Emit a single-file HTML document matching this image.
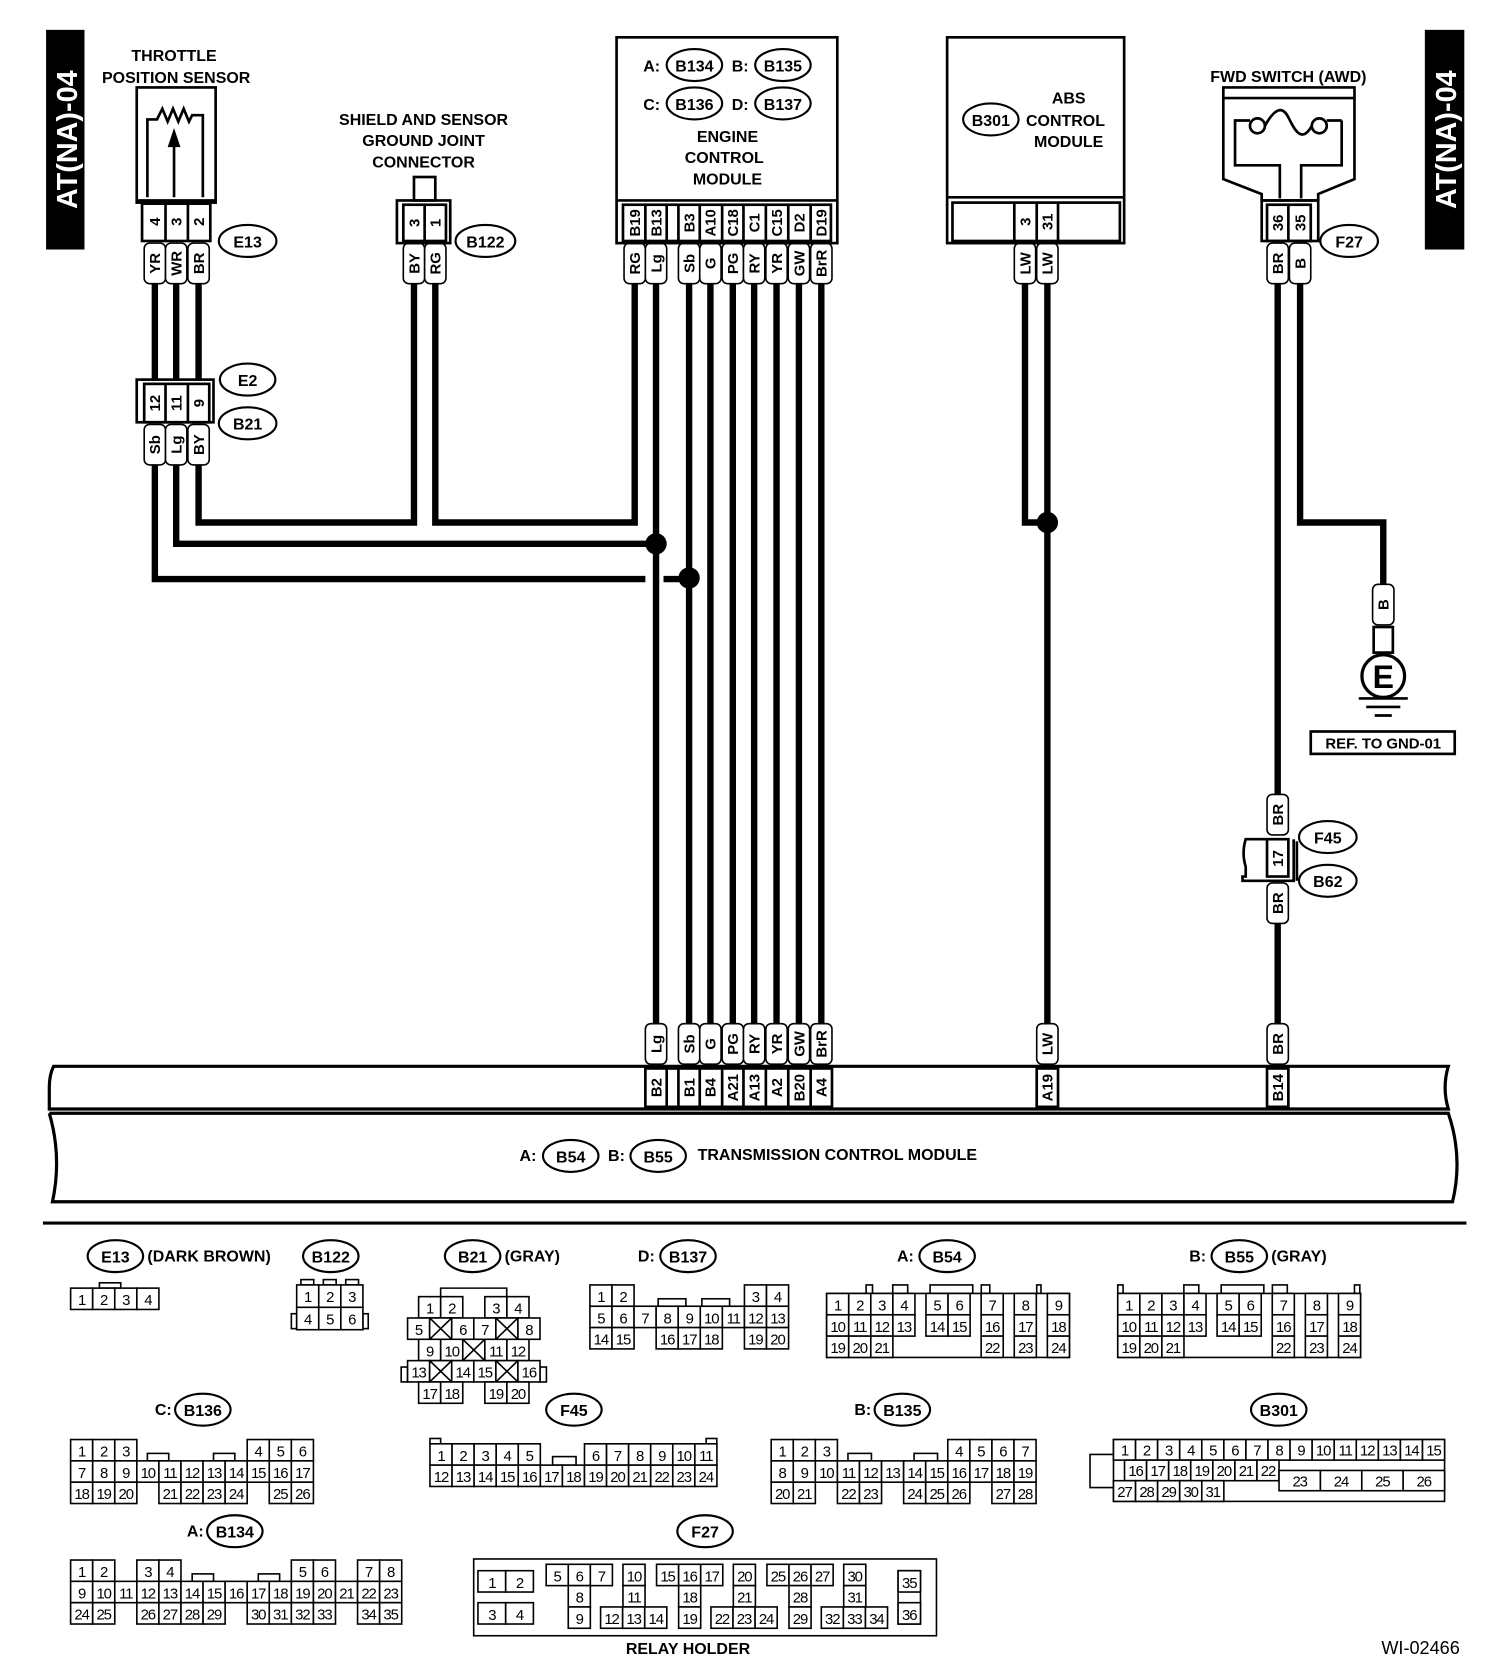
<!DOCTYPE html>
<html><head><meta charset="utf-8"><style>
html,body{margin:0;padding:0;background:#fff}
svg{display:block}
text{font-family:"Liberation Sans",sans-serif;fill:#000}
.b{font-weight:bold;font-size:15px}
.l{font-weight:bold;font-size:14px;text-anchor:middle}
.n{font-size:14px;text-anchor:middle;letter-spacing:-1px}
.c rect,rect.c{fill:#fff;stroke:#000;stroke-width:1.5}
.w{fill:none;stroke:#000;stroke-width:6}
.o{fill:#fff;stroke:#000;stroke-width:2}
.s{fill:none;stroke:#000;stroke-width:2.5}
</style></head><body>
<svg width="1504" height="1672" viewBox="0 0 1410 1568" xmlns="http://www.w3.org/2000/svg">
<rect width="1410" height="1568" fill="#fff"/>
<rect x="43" y="28" width="36" height="206" fill="#000"/>
<text transform="translate(72,131) rotate(-90)" text-anchor="middle" style="font-size:27px;font-weight:bold;fill:#fff">AT(NA)-04</text>
<rect x="1336" y="28" width="37" height="206" fill="#000"/>
<text transform="translate(1365,131) rotate(-90)" text-anchor="middle" style="font-size:27px;font-weight:bold;fill:#fff">AT(NA)-04</text>

<g class="w">
<path d="M145 266V355M165 266V355M186 266V355"/>
<path d="M145 436V543H605M622 543H646"/>
<path d="M165 436V510H615"/>
<path d="M186 436V490H388V266"/>
<path d="M408 266V490H595V266"/>
<path d="M615 266V960M646 266V960M666 266V960M687 266V960M707 266V960M728 266V960M749 266V960M770 266V960"/>
<path d="M961 266V490H982M982 266V960"/>
<path d="M1219 266V490H1297V548"/>
<path d="M1198 266V745M1198 866V960"/>
</g>
<circle cx="615" cy="510" r="10"/><circle cx="646" cy="542" r="10"/><circle cx="982" cy="490" r="10"/>

<text class="b" x="163" y="57" text-anchor="middle">THROTTLE</text>
<text class="b" x="165" y="78" text-anchor="middle">POSITION SENSOR</text>
<rect class="s" x="128" y="82" width="74" height="108" fill="#fff"/>
<path class="s" d="M138 185V112H147L152 102L157 114L162 102L167 114L172 102L177 114L180 108H190V185"/>
<path class="s" d="M163 185V135"/><path d="M157 138L163 120L169 138Z"/>
<line class="s" x1="128" y1="188" x2="202" y2="188"/>
<rect class="s" x="133" y="191" width="64" height="35"/>
<path class="s" d="M155 191V226M176 191V226"/>
<text class="l" transform="translate(150,208) rotate(-90)">4</text>
<text class="l" transform="translate(170,208) rotate(-90)">3</text>
<text class="l" transform="translate(191,208) rotate(-90)">2</text>
<ellipse class="o" cx="232" cy="226" rx="27" ry="15"/><text class="b" x="232" y="232" text-anchor="middle">E13</text>

<g class="c">
<rect x="135" y="228" width="20" height="38" rx="5"/><rect x="155" y="228" width="20" height="38" rx="5"/><rect x="176" y="228" width="20" height="38" rx="5"/>
<rect x="378" y="228" width="20" height="38" rx="5"/><rect x="398" y="228" width="20" height="38" rx="5"/>
<rect x="585" y="228" width="20" height="38" rx="5"/><rect x="605" y="228" width="20" height="38" rx="5"/>
<rect x="636" y="228" width="20" height="38" rx="5"/><rect x="656" y="228" width="20" height="38" rx="5"/><rect x="677" y="228" width="20" height="38" rx="5"/><rect x="697" y="228" width="20" height="38" rx="5"/><rect x="718" y="228" width="20" height="38" rx="5"/><rect x="739" y="228" width="20" height="38" rx="5"/><rect x="760" y="228" width="20" height="38" rx="5"/>
<rect x="951" y="228" width="20" height="38" rx="5"/><rect x="972" y="228" width="20" height="38" rx="5"/>
<rect x="1188" y="228" width="20" height="38" rx="5"/><rect x="1209" y="228" width="20" height="38" rx="5"/>
<rect x="135" y="398" width="20" height="38" rx="5"/><rect x="155" y="398" width="20" height="38" rx="5"/><rect x="176" y="398" width="20" height="38" rx="5"/>
<rect x="605" y="960" width="20" height="38" rx="5"/><rect x="636" y="960" width="20" height="38" rx="5"/><rect x="656" y="960" width="20" height="38" rx="5"/><rect x="677" y="960" width="20" height="38" rx="5"/><rect x="697" y="960" width="20" height="38" rx="5"/><rect x="718" y="960" width="20" height="38" rx="5"/><rect x="739" y="960" width="20" height="38" rx="5"/><rect x="760" y="960" width="20" height="38" rx="5"/>
<rect x="972" y="960" width="20" height="38" rx="5"/><rect x="1188" y="960" width="20" height="38" rx="5"/>
<rect x="1287" y="548" width="20" height="38" rx="5"/>
<rect x="1188" y="745" width="20" height="38" rx="5"/><rect x="1188" y="828" width="20" height="38" rx="5"/>
</g>
<g class="l">
<text transform="translate(150,247) rotate(-90)">YR</text><text transform="translate(170,247) rotate(-90)">WR</text><text transform="translate(191,247) rotate(-90)">BR</text>
<text transform="translate(393,247) rotate(-90)">BY</text><text transform="translate(413,247) rotate(-90)">RG</text>
<text transform="translate(600,247) rotate(-90)">RG</text><text transform="translate(620,247) rotate(-90)">Lg</text>
<text transform="translate(651,247) rotate(-90)">Sb</text><text transform="translate(671,247) rotate(-90)">G</text><text transform="translate(692,247) rotate(-90)">PG</text><text transform="translate(712,247) rotate(-90)">RY</text><text transform="translate(733,247) rotate(-90)">YR</text><text transform="translate(754,247) rotate(-90)">GW</text><text transform="translate(775,247) rotate(-90)">BrR</text>
<text transform="translate(966,247) rotate(-90)">LW</text><text transform="translate(987,247) rotate(-90)">LW</text>
<text transform="translate(1203,247) rotate(-90)">BR</text><text transform="translate(1224,247) rotate(-90)">B</text>
<text transform="translate(150,417) rotate(-90)">Sb</text><text transform="translate(170,417) rotate(-90)">Lg</text><text transform="translate(191,417) rotate(-90)">BY</text>
<text transform="translate(620,979) rotate(-90)">Lg</text><text transform="translate(651,979) rotate(-90)">Sb</text><text transform="translate(671,979) rotate(-90)">G</text><text transform="translate(692,979) rotate(-90)">PG</text><text transform="translate(712,979) rotate(-90)">RY</text><text transform="translate(733,979) rotate(-90)">YR</text><text transform="translate(754,979) rotate(-90)">GW</text><text transform="translate(775,979) rotate(-90)">BrR</text>
<text transform="translate(987,979) rotate(-90)">LW</text><text transform="translate(1203,979) rotate(-90)">BR</text>
<text transform="translate(1302,567) rotate(-90)">B</text>
<text transform="translate(1203,764) rotate(-90)">BR</text><text transform="translate(1203,847) rotate(-90)">BR</text>
</g>

<rect class="s" x="128" y="356" width="72" height="40" fill="#fff"/>
<rect class="s" x="135" y="360" width="61" height="36"/>
<path class="s" d="M155 360V396M176 360V396"/>
<text class="l" transform="translate(150,378) rotate(-90)">12</text><text class="l" transform="translate(170,378) rotate(-90)">11</text><text class="l" transform="translate(191,378) rotate(-90)">9</text>
<ellipse class="o" cx="232" cy="356" rx="26" ry="15"/><text class="b" x="232" y="362" text-anchor="middle">E2</text>
<ellipse class="o" cx="232" cy="397" rx="27" ry="15"/><text class="b" x="232" y="403" text-anchor="middle">B21</text>

<text class="b" x="397" y="117" text-anchor="middle">SHIELD AND SENSOR</text>
<text class="b" x="397" y="137" text-anchor="middle">GROUND JOINT</text>
<text class="b" x="397" y="157" text-anchor="middle">CONNECTOR</text>
<rect class="s" x="388" y="166" width="20" height="22"/>
<rect class="s" x="372" y="188" width="50" height="40" fill="#fff"/>
<rect class="s" x="378" y="192" width="40" height="34"/><path class="s" d="M398 192V226"/>
<text class="l" transform="translate(393,209) rotate(-90)">3</text><text class="l" transform="translate(413,209) rotate(-90)">1</text>
<ellipse class="o" cx="455" cy="226" rx="28" ry="15"/><text class="b" x="455" y="232" text-anchor="middle">B122</text>

<rect class="s" x="578" y="35" width="207" height="193" fill="#fff"/>
<line class="s" x1="578" y1="188" x2="785" y2="188"/>
<text class="b" x="603" y="67">A:</text><ellipse class="o" cx="651" cy="61" rx="26" ry="15"/><text class="b" x="651" y="67" text-anchor="middle">B134</text>
<text class="b" x="686" y="67">B:</text><ellipse class="o" cx="734" cy="61" rx="26" ry="15"/><text class="b" x="734" y="67" text-anchor="middle">B135</text>
<text class="b" x="603" y="103">C:</text><ellipse class="o" cx="651" cy="97" rx="26" ry="15"/><text class="b" x="651" y="103" text-anchor="middle">B136</text>
<text class="b" x="686" y="103">D:</text><ellipse class="o" cx="734" cy="97" rx="26" ry="15"/><text class="b" x="734" y="103" text-anchor="middle">B137</text>
<text class="b" x="682" y="133" text-anchor="middle">ENGINE</text>
<text class="b" x="679" y="153" text-anchor="middle">CONTROL</text>
<text class="b" x="682" y="173" text-anchor="middle">MODULE</text>
<rect class="s" x="584" y="192" width="195" height="34"/>
<path class="s" d="M605 192V226M625 192V226M636 192V226M656 192V226M677 192V226M697 192V226M718 192V226M739 192V226M760 192V226"/>
<g class="l">
<text transform="translate(600,209) rotate(-90)">B19</text><text transform="translate(620,209) rotate(-90)">B13</text><text transform="translate(651,209) rotate(-90)">B3</text><text transform="translate(671,209) rotate(-90)">A10</text><text transform="translate(692,209) rotate(-90)">C18</text><text transform="translate(712,209) rotate(-90)">C1</text><text transform="translate(733,209) rotate(-90)">C15</text><text transform="translate(754,209) rotate(-90)">D2</text><text transform="translate(775,209) rotate(-90)">D19</text>
</g>

<rect class="s" x="888" y="35" width="166" height="193" fill="#fff"/>
<line class="s" x1="888" y1="185" x2="1054" y2="185"/>
<rect class="s" x="893" y="190" width="157" height="36"/>
<path class="s" d="M951 190V226M972 190V226M992 190V226"/>
<text class="l" transform="translate(966,208) rotate(-90)">3</text><text class="l" transform="translate(987,208) rotate(-90)">31</text>
<text class="b" x="1002" y="97" text-anchor="middle">ABS</text>
<ellipse class="o" cx="929" cy="112" rx="26" ry="15"/><text class="b" x="929" y="118" text-anchor="middle">B301</text>
<text class="b" x="999" y="118" text-anchor="middle">CONTROL</text>
<text class="b" x="1002" y="138" text-anchor="middle">MODULE</text>

<text class="b" x="1208" y="77" text-anchor="middle">FWD SWITCH (AWD)</text>
<path class="s" d="M1147 82H1270V168L1236 182V188H1183V182L1147 168Z" fill="#fff"/>
<line class="s" x1="1147" y1="92" x2="1270" y2="92"/>
<path class="s" d="M1200 186V155H1158V113H1172M1258 113V155H1220V186M1244 113H1258"/>
<circle class="s" cx="1179" cy="118" r="7"/><circle class="s" cx="1237" cy="118" r="7"/>
<path class="s" d="M1186 118C1196 100 1203 100 1208 110S1220 136 1230 118"/>
<rect class="s" x="1183" y="188" width="53" height="38" fill="#fff"/>
<rect class="s" x="1188" y="192" width="41" height="34"/><path class="s" d="M1208 192V226"/>
<text class="l" transform="translate(1203,209) rotate(-90)">36</text><text class="l" transform="translate(1224,209) rotate(-90)">35</text>
<ellipse class="o" cx="1265" cy="226" rx="27" ry="15"/><text class="b" x="1265" y="232" text-anchor="middle">F27</text>

<rect class="s" x="1288" y="588" width="18" height="24" fill="#fff"/>
<circle class="s" cx="1297" cy="634" r="20" fill="#fff" style="stroke-width:3"/>
<text x="1297" y="645" text-anchor="middle" style="font-weight:bold;font-size:30px">E</text>
<path class="s" d="M1274 655H1320M1281 663H1313M1289 671H1305"/>
<rect class="s" x="1229" y="686" width="135" height="21" fill="#fff"/>
<text class="b" x="1297" y="702" text-anchor="middle" style="font-size:14px">REF. TO GND-01</text>

<path class="s" d="M1188 787H1168Q1164 800 1168 813V822H1165V826H1213V787" fill="#fff"/>
<rect class="s" x="1188" y="787" width="20" height="35"/>
<path class="s" d="M1216 789V826"/>
<text class="l" transform="translate(1203,805) rotate(-90)">17</text>
<ellipse class="o" cx="1245" cy="785" rx="27" ry="15"/><text class="b" x="1245" y="791" text-anchor="middle">F45</text>
<ellipse class="o" cx="1245" cy="826" rx="27" ry="15"/><text class="b" x="1245" y="832" text-anchor="middle">B62</text>

<path class="s" d="M50 1000H1358Q1352 1020 1358 1040H46V1020Q46 1008 50 1000Z" fill="#fff" style="stroke-width:3"/>
<path class="s" d="M46 1044H1358Q1372 1085 1362 1127H49Q58 1085 46 1044" fill="#fff" style="stroke-width:3"/>
<rect class="s" x="605" y="1002" width="175" height="36"/>
<rect class="s" x="972" y="1002" width="20" height="36"/>
<rect class="s" x="1188" y="1002" width="20" height="36"/>
<path class="s" d="M625 1002V1038M636 1002V1038M656 1002V1038M677 1002V1038M697 1002V1038M718 1002V1038M739 1002V1038M760 1002V1038"/>
<g class="l">
<text transform="translate(620,1020) rotate(-90)">B2</text><text transform="translate(651,1020) rotate(-90)">B1</text><text transform="translate(671,1020) rotate(-90)">B4</text><text transform="translate(692,1020) rotate(-90)">A21</text><text transform="translate(712,1020) rotate(-90)">A13</text><text transform="translate(733,1020) rotate(-90)">A2</text><text transform="translate(754,1020) rotate(-90)">B20</text><text transform="translate(775,1020) rotate(-90)">A4</text>
<text transform="translate(987,1020) rotate(-90)">A19</text><text transform="translate(1203,1020) rotate(-90)">B14</text>
</g>
<text class="b" x="487" y="1089">A:</text><ellipse class="o" cx="535" cy="1084" rx="26" ry="15"/><text class="b" x="535" y="1090" text-anchor="middle">B54</text>
<text class="b" x="570" y="1089">B:</text><ellipse class="o" cx="617" cy="1084" rx="26" ry="15"/><text class="b" x="617" y="1090" text-anchor="middle">B55</text>
<text class="b" x="654" y="1088">TRANSMISSION CONTROL MODULE</text>

<line x1="40" y1="1147" x2="1375" y2="1147" stroke="#000" stroke-width="3"/>

<ellipse class="o" cx="108" cy="1178" rx="26" ry="15"/><text class="b" x="108" y="1184" text-anchor="middle">E13</text><text class="b" x="138" y="1183">(DARK BROWN)</text>
<ellipse class="o" cx="310" cy="1178" rx="26" ry="15"/><text class="b" x="310" y="1184" text-anchor="middle">B122</text>
<ellipse class="o" cx="443" cy="1178" rx="26" ry="15"/><text class="b" x="443" y="1184" text-anchor="middle">B21</text><text class="b" x="473" y="1183">(GRAY)</text>
<text class="b" x="598" y="1183">D:</text><ellipse class="o" cx="645" cy="1178" rx="26" ry="15"/><text class="b" x="645" y="1184" text-anchor="middle">B137</text>
<text class="b" x="841" y="1183">A:</text><ellipse class="o" cx="888" cy="1178" rx="26" ry="15"/><text class="b" x="888" y="1184" text-anchor="middle">B54</text>
<text class="b" x="1115" y="1183">B:</text><ellipse class="o" cx="1162" cy="1178" rx="26" ry="15"/><text class="b" x="1162" y="1184" text-anchor="middle">B55</text><text class="b" x="1192" y="1183">(GRAY)</text>
<text class="b" x="145" y="1327">C:</text><ellipse class="o" cx="190" cy="1322" rx="26" ry="15"/><text class="b" x="190" y="1328" text-anchor="middle">B136</text>
<ellipse class="o" cx="538" cy="1322" rx="26" ry="15"/><text class="b" x="538" y="1328" text-anchor="middle">F45</text>
<text class="b" x="801" y="1327">B:</text><ellipse class="o" cx="846" cy="1322" rx="26" ry="15"/><text class="b" x="846" y="1328" text-anchor="middle">B135</text>
<ellipse class="o" cx="1199" cy="1322" rx="26" ry="15"/><text class="b" x="1199" y="1328" text-anchor="middle">B301</text>
<text class="b" x="175" y="1441">A:</text><ellipse class="o" cx="220" cy="1436" rx="26" ry="15"/><text class="b" x="220" y="1442" text-anchor="middle">B134</text>
<ellipse class="o" cx="661" cy="1436" rx="26" ry="15"/><text class="b" x="661" y="1442" text-anchor="middle">F27</text>

<g transform="translate(66,1208)" class="c">
<rect x="27" y="-5" width="20" height="5"/>
<rect x="0" y="0" width="20.7" height="20"/><rect x="20.7" y="0" width="20.7" height="20"/><rect x="41.4" y="0" width="20.7" height="20"/><rect x="62.1" y="0" width="20.7" height="20"/>
<text class="n" x="10.3" y="16">1</text><text class="n" x="31" y="16">2</text><text class="n" x="51.7" y="16">3</text><text class="n" x="72.4" y="16">4</text>
</g>
<g transform="translate(278,1205)" class="c">
<rect x="4" y="-5" width="12" height="5"/><rect x="25" y="-5" width="12" height="5"/><rect x="46" y="-5" width="12" height="5"/>
<rect x="-5" y="27" width="5" height="14"/><rect x="62.1" y="27" width="5" height="14"/>
<rect x="0" y="0" width="20.7" height="21"/><rect x="20.7" y="0" width="20.7" height="21"/><rect x="41.4" y="0" width="20.7" height="21"/>
<rect x="0" y="21" width="20.7" height="21"/><rect x="20.7" y="21" width="20.7" height="21"/><rect x="41.4" y="21" width="20.7" height="21"/>
<text class="n" x="10.3" y="16">1</text><text class="n" x="31" y="16">2</text><text class="n" x="51.7" y="16">3</text>
<text class="n" x="10.3" y="37">4</text><text class="n" x="31" y="37">5</text><text class="n" x="51.7" y="37">6</text>
</g>
<g transform="translate(382,1216)" class="c">
<path d="M31 0V-8H93V0" fill="none" stroke="#000" stroke-width="1.5"/>
<rect x="-6" y="66" width="6" height="14"/><rect x="124.2" y="66" width="6" height="14"/>
<rect x="10.35" y="0" width="20.7" height="20"/><rect x="31.05" y="0" width="20.7" height="20"/><rect x="72.45" y="0" width="20.7" height="20"/><rect x="93.15" y="0" width="20.7" height="20"/>
<rect x="0" y="20" width="20.7" height="20"/><rect x="20.7" y="20" width="20.7" height="20"/><rect x="41.4" y="20" width="20.7" height="20"/><rect x="62.1" y="20" width="20.7" height="20"/><rect x="82.8" y="20" width="20.7" height="20"/><rect x="103.5" y="20" width="20.7" height="20"/>
<rect x="10.35" y="40" width="20.7" height="20"/><rect x="31.05" y="40" width="20.7" height="20"/><rect x="51.75" y="40" width="20.7" height="20"/><rect x="72.45" y="40" width="20.7" height="20"/><rect x="93.15" y="40" width="20.7" height="20"/>
<rect x="0" y="60" width="20.7" height="20"/><rect x="20.7" y="60" width="20.7" height="20"/><rect x="41.4" y="60" width="20.7" height="20"/><rect x="62.1" y="60" width="20.7" height="20"/><rect x="82.8" y="60" width="20.7" height="20"/><rect x="103.5" y="60" width="20.7" height="20"/>
<rect x="10.35" y="80" width="20.7" height="20"/><rect x="31.05" y="80" width="20.7" height="20"/><rect x="72.45" y="80" width="20.7" height="20"/><rect x="93.15" y="80" width="20.7" height="20"/>
<path d="M20.7 20L41.4 40M41.4 20L20.7 40M82.8 20L103.5 40M103.5 20L82.8 40M51.75 40L72.45 60M72.45 40L51.75 60M20.7 60L41.4 80M41.4 60L20.7 80M82.8 60L103.5 80M103.5 60L82.8 80" stroke="#000" stroke-width="1.5"/>
<text class="n" x="20.7" y="16">1</text><text class="n" x="41.4" y="16">2</text><text class="n" x="82.8" y="16">3</text><text class="n" x="103.5" y="16">4</text>
<text class="n" x="10.3" y="36">5</text><text class="n" x="51.7" y="36">6</text><text class="n" x="72.4" y="36">7</text><text class="n" x="113.8" y="36">8</text>
<text class="n" x="20.7" y="56">9</text><text class="n" x="41.4" y="56">10</text><text class="n" x="82.8" y="56">11</text><text class="n" x="103.5" y="56">12</text>
<text class="n" x="10.3" y="76">13</text><text class="n" x="51.7" y="76">14</text><text class="n" x="72.4" y="76">15</text><text class="n" x="113.8" y="76">16</text>
<text class="n" x="20.7" y="96">17</text><text class="n" x="41.4" y="96">18</text><text class="n" x="82.8" y="96">19</text><text class="n" x="103.5" y="96">20</text>
</g>
<g transform="translate(553,1205)" class="c">
<rect x="64" y="13" width="26" height="7"/><rect x="105" y="13" width="26" height="7"/>
<rect x="0" y="0" width="20.7" height="20"/><rect x="20.7" y="0" width="20.7" height="20"/><rect x="144.9" y="0" width="20.7" height="20"/><rect x="165.6" y="0" width="20.7" height="20"/>
<rect x="0" y="20" width="20.7" height="20"/><rect x="20.7" y="20" width="20.7" height="20"/><rect x="41.4" y="20" width="20.7" height="20"/><rect x="62.1" y="20" width="20.7" height="20"/><rect x="82.8" y="20" width="20.7" height="20"/><rect x="103.5" y="20" width="20.7" height="20"/><rect x="124.2" y="20" width="20.7" height="20"/><rect x="144.9" y="20" width="20.7" height="20"/><rect x="165.6" y="20" width="20.7" height="20"/>
<rect x="0" y="40" width="20.7" height="20"/><rect x="20.7" y="40" width="20.7" height="20"/><rect x="62.1" y="40" width="20.7" height="20"/><rect x="82.8" y="40" width="20.7" height="20"/><rect x="103.5" y="40" width="20.7" height="20"/><rect x="144.9" y="40" width="20.7" height="20"/><rect x="165.6" y="40" width="20.7" height="20"/>
<text class="n" x="10.3" y="16">1</text><text class="n" x="31" y="16">2</text><text class="n" x="155.2" y="16">3</text><text class="n" x="175.9" y="16">4</text>
<text class="n" x="10.3" y="36">5</text><text class="n" x="31" y="36">6</text><text class="n" x="51.7" y="36">7</text><text class="n" x="72.4" y="36">8</text><text class="n" x="93.1" y="36">9</text><text class="n" x="113.8" y="36">10</text><text class="n" x="134.5" y="36">11</text><text class="n" x="155.2" y="36">12</text><text class="n" x="175.9" y="36">13</text>
<text class="n" x="10.3" y="56">14</text><text class="n" x="31" y="56">15</text><text class="n" x="72.4" y="56">16</text><text class="n" x="93.1" y="56">17</text><text class="n" x="113.8" y="56">18</text><text class="n" x="155.2" y="56">19</text><text class="n" x="175.9" y="56">20</text>
</g>
<g transform="translate(775,1213)" class="c">
<rect x="37" y="-8" width="6" height="8"/><rect x="62" y="-8" width="14" height="8"/><rect x="97" y="-8" width="40" height="8"/><rect x="145" y="-8" width="8" height="8"/><rect x="197" y="-8" width="4" height="8"/>
<rect x="0" y="0" width="227.7" height="60"/>
<rect x="0" y="0" width="20.7" height="20"/><rect x="20.7" y="0" width="20.7" height="20"/><rect x="41.4" y="0" width="20.7" height="20"/><rect x="62.1" y="0" width="20.7" height="20"/><rect x="93.15" y="0" width="20.7" height="20"/><rect x="113.85" y="0" width="20.7" height="20"/><rect x="144.9" y="0" width="20.7" height="20"/><rect x="175.95" y="0" width="20.7" height="20"/><rect x="207" y="0" width="20.7" height="20"/>
<rect x="0" y="20" width="20.7" height="20"/><rect x="20.7" y="20" width="20.7" height="20"/><rect x="41.4" y="20" width="20.7" height="20"/><rect x="62.1" y="20" width="20.7" height="20"/><rect x="93.15" y="20" width="20.7" height="20"/><rect x="113.85" y="20" width="20.7" height="20"/><rect x="144.9" y="20" width="20.7" height="20"/><rect x="175.95" y="20" width="20.7" height="20"/><rect x="207" y="20" width="20.7" height="20"/>
<rect x="0" y="40" width="20.7" height="20"/><rect x="20.7" y="40" width="20.7" height="20"/><rect x="41.4" y="40" width="20.7" height="20"/><rect x="144.9" y="40" width="20.7" height="20"/><rect x="175.95" y="40" width="20.7" height="20"/><rect x="207" y="40" width="20.7" height="20"/>
<text class="n" x="10.3" y="16">1</text><text class="n" x="31" y="16">2</text><text class="n" x="51.7" y="16">3</text><text class="n" x="72.4" y="16">4</text><text class="n" x="103.5" y="16">5</text><text class="n" x="124.2" y="16">6</text><text class="n" x="155.2" y="16">7</text><text class="n" x="186.3" y="16">8</text><text class="n" x="217.3" y="16">9</text>
<text class="n" x="10.3" y="36">10</text><text class="n" x="31" y="36">11</text><text class="n" x="51.7" y="36">12</text><text class="n" x="72.4" y="36">13</text><text class="n" x="103.5" y="36">14</text><text class="n" x="124.2" y="36">15</text><text class="n" x="155.2" y="36">16</text><text class="n" x="186.3" y="36">17</text><text class="n" x="217.3" y="36">18</text>
<text class="n" x="10.3" y="56">19</text><text class="n" x="31" y="56">20</text><text class="n" x="51.7" y="56">21</text><text class="n" x="155.2" y="56">22</text><text class="n" x="186.3" y="56">23</text><text class="n" x="217.3" y="56">24</text>
</g>
<g transform="translate(1048,1213)" class="c">
<rect x="0" y="-8" width="5" height="8"/><rect x="62" y="-8" width="14" height="8"/><rect x="97" y="-8" width="40" height="8"/><rect x="145" y="-8" width="14" height="8"/><rect x="222" y="-8" width="5" height="8"/>
<rect x="0" y="0" width="227.7" height="60"/>
<rect x="0" y="0" width="20.7" height="20"/><rect x="20.7" y="0" width="20.7" height="20"/><rect x="41.4" y="0" width="20.7" height="20"/><rect x="62.1" y="0" width="20.7" height="20"/><rect x="93.15" y="0" width="20.7" height="20"/><rect x="113.85" y="0" width="20.7" height="20"/><rect x="144.9" y="0" width="20.7" height="20"/><rect x="175.95" y="0" width="20.7" height="20"/><rect x="207" y="0" width="20.7" height="20"/>
<rect x="0" y="20" width="20.7" height="20"/><rect x="20.7" y="20" width="20.7" height="20"/><rect x="41.4" y="20" width="20.7" height="20"/><rect x="62.1" y="20" width="20.7" height="20"/><rect x="93.15" y="20" width="20.7" height="20"/><rect x="113.85" y="20" width="20.7" height="20"/><rect x="144.9" y="20" width="20.7" height="20"/><rect x="175.95" y="20" width="20.7" height="20"/><rect x="207" y="20" width="20.7" height="20"/>
<rect x="0" y="40" width="20.7" height="20"/><rect x="20.7" y="40" width="20.7" height="20"/><rect x="41.4" y="40" width="20.7" height="20"/><rect x="144.9" y="40" width="20.7" height="20"/><rect x="175.95" y="40" width="20.7" height="20"/><rect x="207" y="40" width="20.7" height="20"/>
<text class="n" x="10.3" y="16">1</text><text class="n" x="31" y="16">2</text><text class="n" x="51.7" y="16">3</text><text class="n" x="72.4" y="16">4</text><text class="n" x="103.5" y="16">5</text><text class="n" x="124.2" y="16">6</text><text class="n" x="155.2" y="16">7</text><text class="n" x="186.3" y="16">8</text><text class="n" x="217.3" y="16">9</text>
<text class="n" x="10.3" y="36">10</text><text class="n" x="31" y="36">11</text><text class="n" x="51.7" y="36">12</text><text class="n" x="72.4" y="36">13</text><text class="n" x="103.5" y="36">14</text><text class="n" x="124.2" y="36">15</text><text class="n" x="155.2" y="36">16</text><text class="n" x="186.3" y="36">17</text><text class="n" x="217.3" y="36">18</text>
<text class="n" x="10.3" y="56">19</text><text class="n" x="31" y="56">20</text><text class="n" x="51.7" y="56">21</text><text class="n" x="155.2" y="56">22</text><text class="n" x="186.3" y="56">23</text><text class="n" x="217.3" y="56">24</text>
</g>
<g transform="translate(66,1350)" class="c">
<rect x="72" y="13" width="20" height="7"/><rect x="134" y="13" width="20" height="7"/>
<rect x="0" y="0" width="20.7" height="20"/><rect x="20.7" y="0" width="20.7" height="20"/><rect x="41.4" y="0" width="20.7" height="20"/><rect x="165.6" y="0" width="20.7" height="20"/><rect x="186.3" y="0" width="20.7" height="20"/><rect x="207" y="0" width="20.7" height="20"/>
<rect x="0" y="20" width="20.7" height="20"/><rect x="20.7" y="20" width="20.7" height="20"/><rect x="41.4" y="20" width="20.7" height="20"/><rect x="62.1" y="20" width="20.7" height="20"/><rect x="82.8" y="20" width="20.7" height="20"/><rect x="103.5" y="20" width="20.7" height="20"/><rect x="124.2" y="20" width="20.7" height="20"/><rect x="144.9" y="20" width="20.7" height="20"/><rect x="165.6" y="20" width="20.7" height="20"/><rect x="186.3" y="20" width="20.7" height="20"/><rect x="207" y="20" width="20.7" height="20"/>
<rect x="0" y="40" width="20.7" height="20"/><rect x="20.7" y="40" width="20.7" height="20"/><rect x="41.4" y="40" width="20.7" height="20"/><rect x="82.8" y="40" width="20.7" height="20"/><rect x="103.5" y="40" width="20.7" height="20"/><rect x="124.2" y="40" width="20.7" height="20"/><rect x="144.9" y="40" width="20.7" height="20"/><rect x="186.3" y="40" width="20.7" height="20"/><rect x="207" y="40" width="20.7" height="20"/>
<text class="n" x="10.3" y="16">1</text><text class="n" x="31" y="16">2</text><text class="n" x="51.7" y="16">3</text><text class="n" x="175.9" y="16">4</text><text class="n" x="196.6" y="16">5</text><text class="n" x="217.3" y="16">6</text>
<text class="n" x="10.3" y="36">7</text><text class="n" x="31" y="36">8</text><text class="n" x="51.7" y="36">9</text><text class="n" x="72.4" y="36">10</text><text class="n" x="93.1" y="36">11</text><text class="n" x="113.8" y="36">12</text><text class="n" x="134.5" y="36">13</text><text class="n" x="155.2" y="36">14</text><text class="n" x="175.9" y="36">15</text><text class="n" x="196.6" y="36">16</text><text class="n" x="217.3" y="36">17</text>
<text class="n" x="10.3" y="56">18</text><text class="n" x="31" y="56">19</text><text class="n" x="51.7" y="56">20</text><text class="n" x="93.1" y="56">21</text><text class="n" x="113.8" y="56">22</text><text class="n" x="134.5" y="56">23</text><text class="n" x="155.2" y="56">24</text><text class="n" x="196.6" y="56">25</text><text class="n" x="217.3" y="56">26</text>
</g>
<g transform="translate(403,1354)" class="c">
<rect x="0" y="-5" width="10" height="5"/><rect x="259" y="-5" width="10" height="5"/>
<rect x="115" y="12" width="22" height="8"/>
<rect x="0" y="0" width="20.7" height="20"/><rect x="20.7" y="0" width="20.7" height="20"/><rect x="41.4" y="0" width="20.7" height="20"/><rect x="62.1" y="0" width="20.7" height="20"/><rect x="82.8" y="0" width="20.7" height="20"/>
<rect x="144.9" y="0" width="20.7" height="20"/><rect x="165.6" y="0" width="20.7" height="20"/><rect x="186.3" y="0" width="20.7" height="20"/><rect x="207" y="0" width="20.7" height="20"/><rect x="227.7" y="0" width="20.7" height="20"/><rect x="248.4" y="0" width="20.7" height="20"/>
<rect x="0" y="20" width="20.7" height="20"/><rect x="20.7" y="20" width="20.7" height="20"/><rect x="41.4" y="20" width="20.7" height="20"/><rect x="62.1" y="20" width="20.7" height="20"/><rect x="82.8" y="20" width="20.7" height="20"/><rect x="103.5" y="20" width="20.7" height="20"/><rect x="124.2" y="20" width="20.7" height="20"/><rect x="144.9" y="20" width="20.7" height="20"/><rect x="165.6" y="20" width="20.7" height="20"/><rect x="186.3" y="20" width="20.7" height="20"/><rect x="207" y="20" width="20.7" height="20"/><rect x="227.7" y="20" width="20.7" height="20"/><rect x="248.4" y="20" width="20.7" height="20"/>
<text class="n" x="10.3" y="16">1</text><text class="n" x="31" y="16">2</text><text class="n" x="51.7" y="16">3</text><text class="n" x="72.4" y="16">4</text><text class="n" x="93.1" y="16">5</text><text class="n" x="155.2" y="16">6</text><text class="n" x="175.9" y="16">7</text><text class="n" x="196.6" y="16">8</text><text class="n" x="217.3" y="16">9</text><text class="n" x="238" y="16">10</text><text class="n" x="258.7" y="16">11</text>
<text class="n" x="10.3" y="36">12</text><text class="n" x="31" y="36">13</text><text class="n" x="51.7" y="36">14</text><text class="n" x="72.4" y="36">15</text><text class="n" x="93.1" y="36">16</text><text class="n" x="113.8" y="36">17</text><text class="n" x="134.5" y="36">18</text><text class="n" x="155.2" y="36">19</text><text class="n" x="175.9" y="36">20</text><text class="n" x="196.6" y="36">21</text><text class="n" x="217.3" y="36">22</text><text class="n" x="238" y="36">23</text><text class="n" x="258.7" y="36">24</text>
</g>
<g transform="translate(723,1350)" class="c">
<rect x="72" y="13" width="22" height="7"/><rect x="134" y="13" width="22" height="7"/>
<rect x="0" y="0" width="20.7" height="20"/><rect x="20.7" y="0" width="20.7" height="20"/><rect x="41.4" y="0" width="20.7" height="20"/><rect x="165.6" y="0" width="20.7" height="20"/><rect x="186.3" y="0" width="20.7" height="20"/><rect x="207" y="0" width="20.7" height="20"/><rect x="227.7" y="0" width="20.7" height="20"/>
<rect x="0" y="20" width="20.7" height="20"/><rect x="20.7" y="20" width="20.7" height="20"/><rect x="41.4" y="20" width="20.7" height="20"/><rect x="62.1" y="20" width="20.7" height="20"/><rect x="82.8" y="20" width="20.7" height="20"/><rect x="103.5" y="20" width="20.7" height="20"/><rect x="124.2" y="20" width="20.7" height="20"/><rect x="144.9" y="20" width="20.7" height="20"/><rect x="165.6" y="20" width="20.7" height="20"/><rect x="186.3" y="20" width="20.7" height="20"/><rect x="207" y="20" width="20.7" height="20"/><rect x="227.7" y="20" width="20.7" height="20"/>
<rect x="0" y="40" width="20.7" height="20"/><rect x="20.7" y="40" width="20.7" height="20"/><rect x="62.1" y="40" width="20.7" height="20"/><rect x="82.8" y="40" width="20.7" height="20"/><rect x="124.2" y="40" width="20.7" height="20"/><rect x="144.9" y="40" width="20.7" height="20"/><rect x="165.6" y="40" width="20.7" height="20"/><rect x="207" y="40" width="20.7" height="20"/><rect x="227.7" y="40" width="20.7" height="20"/>
<text class="n" x="10.3" y="16">1</text><text class="n" x="31" y="16">2</text><text class="n" x="51.7" y="16">3</text><text class="n" x="175.9" y="16">4</text><text class="n" x="196.6" y="16">5</text><text class="n" x="217.3" y="16">6</text><text class="n" x="238" y="16">7</text>
<text class="n" x="10.3" y="36">8</text><text class="n" x="31" y="36">9</text><text class="n" x="51.7" y="36">10</text><text class="n" x="72.4" y="36">11</text><text class="n" x="93.1" y="36">12</text><text class="n" x="113.8" y="36">13</text><text class="n" x="134.5" y="36">14</text><text class="n" x="155.2" y="36">15</text><text class="n" x="175.9" y="36">16</text><text class="n" x="196.6" y="36">17</text><text class="n" x="217.3" y="36">18</text><text class="n" x="238" y="36">19</text>
<text class="n" x="10.3" y="56">20</text><text class="n" x="31" y="56">21</text><text class="n" x="72.4" y="56">22</text><text class="n" x="93.1" y="56">23</text><text class="n" x="134.5" y="56">24</text><text class="n" x="155.2" y="56">25</text><text class="n" x="175.9" y="56">26</text><text class="n" x="217.3" y="56">27</text><text class="n" x="238" y="56">28</text>
</g>
<g transform="translate(1044,1350)" class="c">
<path d="M0 14H-22V45H0" fill="none" stroke="#000" stroke-width="1.5"/>
<rect x="0" y="0" width="310.5" height="58"/>
<rect x="0" y="0" width="20.7" height="19.3"/><rect x="20.7" y="0" width="20.7" height="19.3"/><rect x="41.4" y="0" width="20.7" height="19.3"/><rect x="62.1" y="0" width="20.7" height="19.3"/><rect x="82.8" y="0" width="20.7" height="19.3"/><rect x="103.5" y="0" width="20.7" height="19.3"/><rect x="124.2" y="0" width="20.7" height="19.3"/><rect x="144.9" y="0" width="20.7" height="19.3"/><rect x="165.6" y="0" width="20.7" height="19.3"/><rect x="186.3" y="0" width="20.7" height="19.3"/><rect x="207" y="0" width="20.7" height="19.3"/><rect x="227.7" y="0" width="20.7" height="19.3"/><rect x="248.4" y="0" width="20.7" height="19.3"/><rect x="269.1" y="0" width="20.7" height="19.3"/><rect x="289.8" y="0" width="20.7" height="19.3"/>
<rect x="10.35" y="19.3" width="20.7" height="19.3"/><rect x="31.05" y="19.3" width="20.7" height="19.3"/><rect x="51.75" y="19.3" width="20.7" height="19.3"/><rect x="72.45" y="19.3" width="20.7" height="19.3"/><rect x="93.15" y="19.3" width="20.7" height="19.3"/><rect x="113.85" y="19.3" width="20.7" height="19.3"/><rect x="134.55" y="19.3" width="20.7" height="19.3"/>
<rect x="0" y="38.6" width="20.7" height="19.4"/><rect x="20.7" y="38.6" width="20.7" height="19.4"/><rect x="41.4" y="38.6" width="20.7" height="19.4"/><rect x="62.1" y="38.6" width="20.7" height="19.4"/><rect x="82.8" y="38.6" width="20.7" height="19.4"/>
<rect x="155.25" y="29" width="38.8" height="19"/><rect x="194.05" y="29" width="38.8" height="19"/><rect x="232.85" y="29" width="38.8" height="19"/><rect x="271.65" y="29" width="38.85" height="19"/>
<text class="n" x="10.3" y="15">1</text><text class="n" x="31" y="15">2</text><text class="n" x="51.7" y="15">3</text><text class="n" x="72.4" y="15">4</text><text class="n" x="93.1" y="15">5</text><text class="n" x="113.8" y="15">6</text><text class="n" x="134.5" y="15">7</text><text class="n" x="155.2" y="15">8</text><text class="n" x="175.9" y="15">9</text><text class="n" x="196.6" y="15">10</text><text class="n" x="217.3" y="15">11</text><text class="n" x="238" y="15">12</text><text class="n" x="258.7" y="15">13</text><text class="n" x="279.4" y="15">14</text><text class="n" x="300.1" y="15">15</text>
<text class="n" x="20.7" y="34">16</text><text class="n" x="41.4" y="34">17</text><text class="n" x="62.1" y="34">18</text><text class="n" x="82.8" y="34">19</text><text class="n" x="103.5" y="34">20</text><text class="n" x="124.2" y="34">21</text><text class="n" x="144.9" y="34">22</text>
<text class="n" x="10.3" y="54">27</text><text class="n" x="31" y="54">28</text><text class="n" x="51.7" y="54">29</text><text class="n" x="72.4" y="54">30</text><text class="n" x="93.1" y="54">31</text>
<text class="n" x="174.6" y="44">23</text><text class="n" x="213.4" y="44">24</text><text class="n" x="252.2" y="44">25</text><text class="n" x="291" y="44">26</text>
</g>
<g transform="translate(66,1463)" class="c">
<rect x="114" y="13" width="20" height="7"/><rect x="176" y="13" width="20" height="7"/>
<rect x="0" y="0" width="20.7" height="20"/><rect x="20.7" y="0" width="20.7" height="20"/><rect x="62.1" y="0" width="20.7" height="20"/><rect x="82.8" y="0" width="20.7" height="20"/><rect x="207" y="0" width="20.7" height="20"/><rect x="227.7" y="0" width="20.7" height="20"/><rect x="269.1" y="0" width="20.7" height="20"/><rect x="289.8" y="0" width="20.7" height="20"/>
<rect x="0" y="20" width="20.7" height="20"/><rect x="20.7" y="20" width="20.7" height="20"/><rect x="41.4" y="20" width="20.7" height="20"/><rect x="62.1" y="20" width="20.7" height="20"/><rect x="82.8" y="20" width="20.7" height="20"/><rect x="103.5" y="20" width="20.7" height="20"/><rect x="124.2" y="20" width="20.7" height="20"/><rect x="144.9" y="20" width="20.7" height="20"/><rect x="165.6" y="20" width="20.7" height="20"/><rect x="186.3" y="20" width="20.7" height="20"/><rect x="207" y="20" width="20.7" height="20"/><rect x="227.7" y="20" width="20.7" height="20"/><rect x="248.4" y="20" width="20.7" height="20"/><rect x="269.1" y="20" width="20.7" height="20"/><rect x="289.8" y="20" width="20.7" height="20"/>
<rect x="0" y="40" width="20.7" height="20"/><rect x="20.7" y="40" width="20.7" height="20"/><rect x="62.1" y="40" width="20.7" height="20"/><rect x="82.8" y="40" width="20.7" height="20"/><rect x="103.5" y="40" width="20.7" height="20"/><rect x="124.2" y="40" width="20.7" height="20"/><rect x="165.6" y="40" width="20.7" height="20"/><rect x="186.3" y="40" width="20.7" height="20"/><rect x="207" y="40" width="20.7" height="20"/><rect x="227.7" y="40" width="20.7" height="20"/><rect x="269.1" y="40" width="20.7" height="20"/><rect x="289.8" y="40" width="20.7" height="20"/>
<text class="n" x="10.3" y="16">1</text><text class="n" x="31" y="16">2</text><text class="n" x="72.4" y="16">3</text><text class="n" x="93.1" y="16">4</text><text class="n" x="217.3" y="16">5</text><text class="n" x="238" y="16">6</text><text class="n" x="279.4" y="16">7</text><text class="n" x="300.1" y="16">8</text>
<text class="n" x="10.3" y="36">9</text><text class="n" x="31" y="36">10</text><text class="n" x="51.7" y="36">11</text><text class="n" x="72.4" y="36">12</text><text class="n" x="93.1" y="36">13</text><text class="n" x="113.8" y="36">14</text><text class="n" x="134.5" y="36">15</text><text class="n" x="155.2" y="36">16</text><text class="n" x="175.9" y="36">17</text><text class="n" x="196.6" y="36">18</text><text class="n" x="217.3" y="36">19</text><text class="n" x="238" y="36">20</text><text class="n" x="258.7" y="36">21</text><text class="n" x="279.4" y="36">22</text><text class="n" x="300.1" y="36">23</text>
<text class="n" x="10.3" y="56">24</text><text class="n" x="31" y="56">25</text><text class="n" x="72.4" y="56">26</text><text class="n" x="93.1" y="56">27</text><text class="n" x="113.8" y="56">28</text><text class="n" x="134.5" y="56">29</text><text class="n" x="175.9" y="56">30</text><text class="n" x="196.6" y="56">31</text><text class="n" x="217.3" y="56">32</text><text class="n" x="238" y="56">33</text><text class="n" x="279.4" y="56">34</text><text class="n" x="300.1" y="56">35</text>
</g>
<rect class="c" x="444" y="1462" width="434" height="72"/>
<g class="c">
<rect x="448" y="1473" width="26" height="20"/><rect x="474" y="1473" width="26" height="20"/><rect x="448" y="1503" width="26" height="20"/><rect x="474" y="1503" width="26" height="20"/>
<rect x="512" y="1467" width="20.7" height="20"/><rect x="532.7" y="1467" width="20.7" height="20"/><rect x="553.4" y="1467" width="20.7" height="20"/><rect x="532.7" y="1487" width="20.7" height="20"/><rect x="532.7" y="1507" width="20.7" height="20"/>
<rect x="584" y="1467" width="20.7" height="20"/><rect x="584" y="1487" width="20.7" height="20"/><rect x="563" y="1507" width="20.7" height="20"/><rect x="583.7" y="1507" width="20.7" height="20"/><rect x="604.4" y="1507" width="20.7" height="20"/>
<rect x="615.5" y="1467" width="20.7" height="20"/><rect x="636.2" y="1467" width="20.7" height="20"/><rect x="656.9" y="1467" width="20.7" height="20"/><rect x="636.2" y="1487" width="20.7" height="20"/><rect x="636.2" y="1507" width="20.7" height="20"/>
<rect x="687.5" y="1467" width="20.7" height="20"/><rect x="687.5" y="1487" width="20.7" height="20"/><rect x="666.5" y="1507" width="20.7" height="20"/><rect x="687.2" y="1507" width="20.7" height="20"/><rect x="707.9" y="1507" width="20.7" height="20"/>
<rect x="719" y="1467" width="20.7" height="20"/><rect x="739.7" y="1467" width="20.7" height="20"/><rect x="760.4" y="1467" width="20.7" height="20"/><rect x="739.7" y="1487" width="20.7" height="20"/><rect x="739.7" y="1507" width="20.7" height="20"/>
<rect x="791" y="1467" width="20.7" height="20"/><rect x="791" y="1487" width="20.7" height="20"/><rect x="770" y="1507" width="20.7" height="20"/><rect x="790.7" y="1507" width="20.7" height="20"/><rect x="811.4" y="1507" width="20.7" height="20"/>
<rect x="842" y="1473" width="21" height="50"/><rect x="842" y="1473" width="21" height="20"/><rect x="842" y="1503" width="21" height="20"/>
</g>
<g class="n">
<text x="461" y="1489">1</text><text x="487" y="1489">2</text><text x="461" y="1519">3</text><text x="487" y="1519">4</text>
<text x="522.3" y="1483">5</text><text x="543" y="1483">6</text><text x="563.7" y="1483">7</text><text x="543" y="1503">8</text><text x="543" y="1523">9</text>
<text x="594.3" y="1483">10</text><text x="594.3" y="1503">11</text><text x="573.3" y="1523">12</text><text x="594" y="1523">13</text><text x="614.7" y="1523">14</text>
<text x="625.8" y="1483">15</text><text x="646.5" y="1483">16</text><text x="667.2" y="1483">17</text><text x="646.5" y="1503">18</text><text x="646.5" y="1523">19</text>
<text x="697.8" y="1483">20</text><text x="697.8" y="1503">21</text><text x="676.8" y="1523">22</text><text x="697.5" y="1523">23</text><text x="718.2" y="1523">24</text>
<text x="729.3" y="1483">25</text><text x="750" y="1483">26</text><text x="770.7" y="1483">27</text><text x="750" y="1503">28</text><text x="750" y="1523">29</text>
<text x="801.3" y="1483">30</text><text x="801.3" y="1503">31</text><text x="780.3" y="1523">32</text><text x="801" y="1523">33</text><text x="821.7" y="1523">34</text>
<text x="852.5" y="1489">35</text><text x="852.5" y="1519">36</text>
</g>
<text class="b" x="645" y="1551" text-anchor="middle">RELAY HOLDER</text>
<text x="1332" y="1551" text-anchor="middle" style="font-size:17px">WI-02466</text>
</svg>
</body></html>
